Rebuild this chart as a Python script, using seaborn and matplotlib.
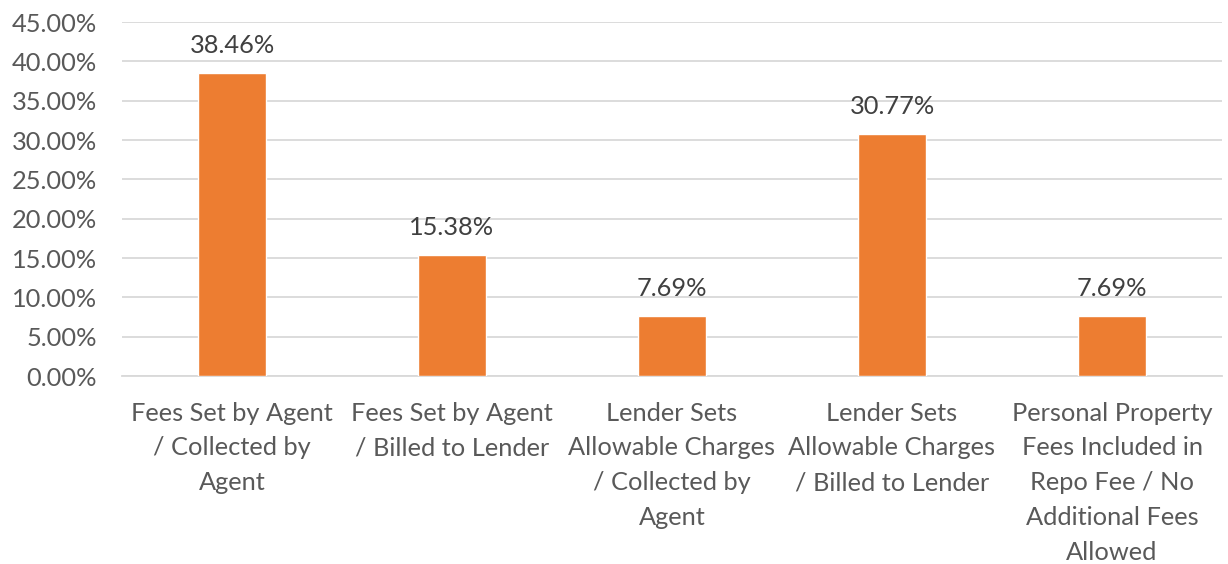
import matplotlib
matplotlib.use("Agg")
import matplotlib.pyplot as plt
import seaborn as sns
import pandas as pd
from matplotlib.ticker import FuncFormatter, MultipleLocator

categories = [
    "Fees Set by Agent\n/ Collected by\nAgent",
    "Fees Set by Agent\n/ Billed to Lender",
    "Lender Sets\nAllowable Charges\n/ Collected by\nAgent",
    "Lender Sets\nAllowable Charges\n/ Billed to Lender",
    "Personal Property\nFees Included in\nRepo Fee / No\nAdditional Fees\nAllowed",
]
values = [38.46, 15.38, 7.69, 30.77, 7.69]

sns.set_theme(style="white")
plt.rcParams["font.family"] = ["Lato", "DejaVu Sans"]

df = pd.DataFrame({"cat": categories, "val": values})

fig = plt.figure(figsize=(12.28, 5.64), dpi=100)
ax = fig.add_axes([122 / 1228, 1 - 376 / 564, 1100 / 1228, (376 - 22) / 564])

sns.barplot(data=df, x="cat", y="val", color="#ED7D31", width=0.31,
            saturation=1, ax=ax, zorder=3)

FS = 18.3
ax.set_ylim(0, 45)
ax.yaxis.set_major_locator(MultipleLocator(5))
ax.yaxis.set_major_formatter(FuncFormatter(lambda v, p: f"{v:.2f}%"))
ax.set_xlim(-0.5, 4.5)
ax.grid(axis="y", color="#d9d9d9", linewidth=1.3, zorder=0)
ax.set_axisbelow(True)
for s in ["top", "right", "left"]:
    ax.spines[s].set_visible(False)
ax.spines["bottom"].set_color("#d9d9d9")
ax.spines["bottom"].set_linewidth(1.3)
ax.set_xlabel("")
ax.set_ylabel("")
ax.tick_params(axis="y", length=0, pad=18, labelsize=FS, labelcolor="#595959")
ax.tick_params(axis="x", length=0, pad=18.5, labelsize=FS, labelcolor="#595959")
for lab in ax.get_xticklabels():
    lab.set_linespacing(1.62)

for i, v in enumerate(values):
    ax.annotate(f"{v:.2f}%", (i, v), xytext=(0, 11.5), textcoords="offset points",
                ha="center", va="bottom", fontsize=FS, color="#404040")

fig.savefig("out.png", dpi=100)
